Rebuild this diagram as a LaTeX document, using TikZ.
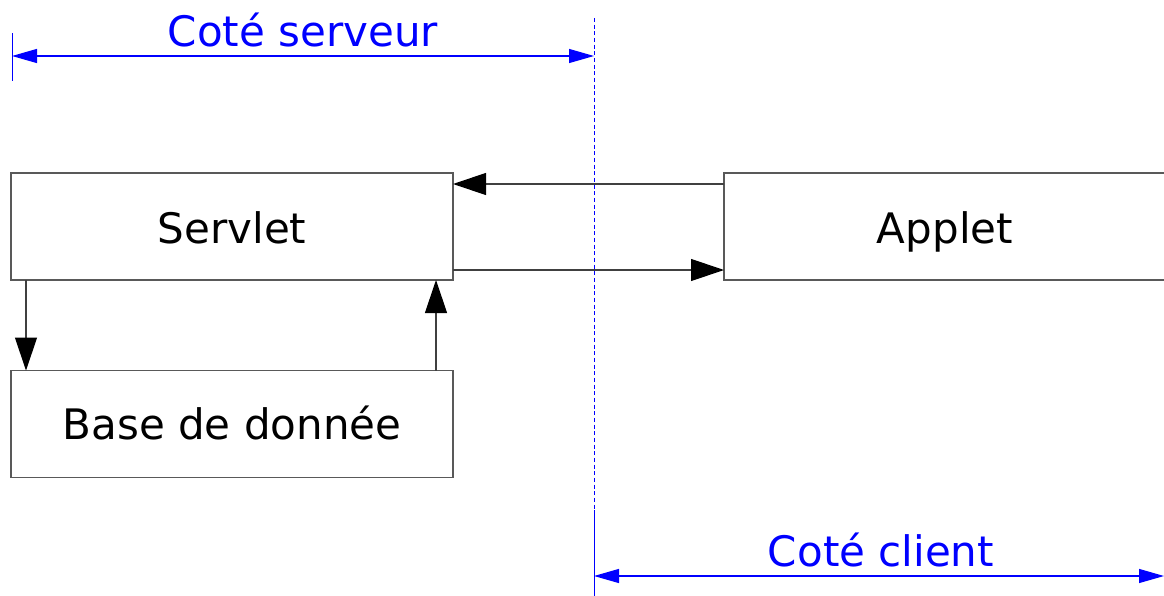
\documentclass[tikz,border=0pt]{standalone}
\usepackage{fontspec}
\setmainfont{DejaVu Sans}
\usetikzlibrary{arrows.meta,calc}
\definecolor{dimblue}{RGB}{0,0,255}
\tikzset{
  box/.style={draw=black!65, line width=1pt, minimum width=331.5pt, minimum height=80.25pt, inner sep=0pt, outer sep=0pt, text height=23pt, text depth=0pt, font=\fontsize{31.5}{36}\selectfont},
  flow/.style={draw=black!75, line width=0.9pt, -{Triangle[length=24.75pt,width=16.5pt,color=black]}},
  dimline/.style={draw=dimblue, line width=0.9pt, {Triangle[length=18.75pt,width=10.5pt]}-{Triangle[length=18.75pt,width=10.5pt]}},
  extline/.style={draw=dimblue, line width=0.7pt},
  sepline/.style={draw=dimblue, line width=0.7pt, dash pattern=on 3pt off 2pt},
  dimlabel/.style={text=dimblue, inner sep=0pt, text height=23pt, text depth=0pt, font=\fontsize{31.5}{36}\selectfont}
}
\begin{document}
\begin{tikzpicture}[x=0.75pt,y=-0.75pt]
\clip (0,0) rectangle (1164,596);
\node[box] (servlet) at (232,226.5) {\raisebox{-1.5pt}{Servlet}};
\node[box] (base) at (232,424) {Base de donnée};
\node[box] (applet) at (945,226.5) {\raisebox{-1.5pt}{Applet}};
% flows
\draw[flow] ([yshift=-8.25pt]applet.north west) -- ([yshift=-8.25pt]servlet.north east);
\draw[flow] ([yshift=7.5pt]servlet.south east) -- ([yshift=7.5pt]applet.south west);
\draw[flow] ([xshift=11.25pt]servlet.south west) -- ([xshift=11.25pt]base.north west);
\draw[flow] ([xshift=-12.75pt]base.north east) -- ([xshift=-12.75pt]servlet.south east);
% separator
\coordinate (septop) at (594,18);
\coordinate (sepbot) at (594,596);
\draw[sepline] (septop) -- (sepbot);
% server side dimension
\coordinate (s1top) at (12,33);
\coordinate (s1bot) at (12,81);
\draw[extline] (s1top) -- (s1bot);
\coordinate (s1) at (12,56);
\coordinate (s2) at (594,56);
\draw[dimline] (s1) -- (s2);
\node[dimlabel] (serveur) at (303,31) {Coté serveur};
% client side dimension
\coordinate (c0) at (594,510);
\draw[extline] (c0) -- (sepbot);
\coordinate (c1) at (594,576);
\coordinate (c2) at (1164,576);
\draw[dimline] (c1) -- (c2);
\node[dimlabel] (client) at (881,551) {Coté client};
\end{tikzpicture}
\end{document}
